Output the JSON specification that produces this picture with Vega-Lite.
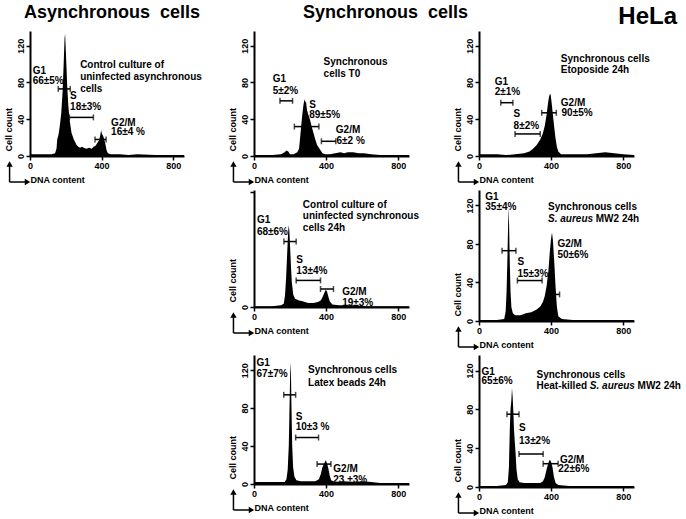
{
"$schema":"https://vega.github.io/schema/vega-lite/v6.json",
"background":"white",
"padding":{"left":3,"top":4,"right":2,"bottom":2},
"datasets":{
"h":[
{"p":1,"x":0,"y":2},{"p":1,"x":40,"y":2},{"p":1,"x":80,"y":2},{"p":1,"x":120,"y":2},{"p":1,"x":140,"y":3},{"p":1,"x":148,"y":8},{"p":1,"x":152,"y":18},{"p":1,"x":160,"y":24},{"p":1,"x":168,"y":35},{"p":1,"x":175,"y":48},{"p":1,"x":182,"y":70},{"p":1,"x":188,"y":100},{"p":1,"x":193,"y":128},{"p":1,"x":196,"y":133},{"p":1,"x":199,"y":120},{"p":1,"x":203,"y":100},{"p":1,"x":208,"y":75},{"p":1,"x":214,"y":55},{"p":1,"x":222,"y":38},{"p":1,"x":232,"y":25},{"p":1,"x":245,"y":18},{"p":1,"x":260,"y":12},{"p":1,"x":270,"y":10},{"p":1,"x":280,"y":9},{"p":1,"x":290,"y":10},{"p":1,"x":300,"y":9},{"p":1,"x":315,"y":8},{"p":1,"x":330,"y":9},{"p":1,"x":345,"y":8},{"p":1,"x":355,"y":10},{"p":1,"x":365,"y":11},{"p":1,"x":375,"y":14},{"p":1,"x":385,"y":17},{"p":1,"x":392,"y":22},{"p":1,"x":397,"y":28},{"p":1,"x":402,"y":24},{"p":1,"x":408,"y":22},{"p":1,"x":415,"y":18},{"p":1,"x":422,"y":12},{"p":1,"x":428,"y":6},{"p":1,"x":435,"y":3},{"p":1,"x":450,"y":2},{"p":1,"x":500,"y":2},{"p":1,"x":550,"y":1},{"p":1,"x":600,"y":2},{"p":1,"x":700,"y":1},{"p":1,"x":860,"y":1},
{"p":2,"x":0,"y":1},{"p":2,"x":100,"y":1},{"p":2,"x":150,"y":2},{"p":2,"x":170,"y":4},{"p":2,"x":180,"y":6},{"p":2,"x":190,"y":5},{"p":2,"x":200,"y":2},{"p":2,"x":220,"y":2},{"p":2,"x":240,"y":4},{"p":2,"x":250,"y":8},{"p":2,"x":256,"y":20},{"p":2,"x":262,"y":33},{"p":2,"x":268,"y":45},{"p":2,"x":274,"y":55},{"p":2,"x":280,"y":62},{"p":2,"x":284,"y":58},{"p":2,"x":288,"y":60},{"p":2,"x":294,"y":50},{"p":2,"x":300,"y":46},{"p":2,"x":310,"y":40},{"p":2,"x":320,"y":32},{"p":2,"x":330,"y":25},{"p":2,"x":340,"y":18},{"p":2,"x":350,"y":12},{"p":2,"x":360,"y":9},{"p":2,"x":370,"y":6},{"p":2,"x":380,"y":3},{"p":2,"x":395,"y":2},{"p":2,"x":420,"y":2},{"p":2,"x":450,"y":3},{"p":2,"x":480,"y":4},{"p":2,"x":500,"y":3},{"p":2,"x":520,"y":4},{"p":2,"x":550,"y":4},{"p":2,"x":580,"y":3},{"p":2,"x":610,"y":3},{"p":2,"x":650,"y":2},{"p":2,"x":700,"y":1},{"p":2,"x":860,"y":1},
{"p":3,"x":0,"y":2},{"p":3,"x":100,"y":2},{"p":3,"x":150,"y":1},{"p":3,"x":200,"y":2},{"p":3,"x":250,"y":3},{"p":3,"x":280,"y":5},{"p":3,"x":300,"y":8},{"p":3,"x":320,"y":12},{"p":3,"x":340,"y":18},{"p":3,"x":355,"y":25},{"p":3,"x":365,"y":33},{"p":3,"x":375,"y":45},{"p":3,"x":382,"y":56},{"p":3,"x":388,"y":64},{"p":3,"x":394,"y":68},{"p":3,"x":398,"y":66},{"p":3,"x":403,"y":58},{"p":3,"x":410,"y":45},{"p":3,"x":417,"y":32},{"p":3,"x":424,"y":20},{"p":3,"x":432,"y":10},{"p":3,"x":440,"y":5},{"p":3,"x":455,"y":2},{"p":3,"x":500,"y":2},{"p":3,"x":600,"y":2},{"p":3,"x":650,"y":3},{"p":3,"x":700,"y":4},{"p":3,"x":750,"y":3},{"p":3,"x":800,"y":2},{"p":3,"x":860,"y":1},
{"p":4,"x":0,"y":1},{"p":4,"x":100,"y":1},{"p":4,"x":150,"y":2},{"p":4,"x":165,"y":4},{"p":4,"x":172,"y":14},{"p":4,"x":178,"y":35},{"p":4,"x":183,"y":60},{"p":4,"x":188,"y":85},{"p":4,"x":192,"y":100},{"p":4,"x":196,"y":94},{"p":4,"x":200,"y":75},{"p":4,"x":205,"y":50},{"p":4,"x":210,"y":30},{"p":4,"x":218,"y":15},{"p":4,"x":228,"y":10},{"p":4,"x":250,"y":8},{"p":4,"x":270,"y":7},{"p":4,"x":300,"y":5},{"p":4,"x":330,"y":5},{"p":4,"x":355,"y":6},{"p":4,"x":370,"y":8},{"p":4,"x":380,"y":12},{"p":4,"x":390,"y":17},{"p":4,"x":398,"y":21},{"p":4,"x":405,"y":19},{"p":4,"x":412,"y":13},{"p":4,"x":420,"y":7},{"p":4,"x":435,"y":3},{"p":4,"x":470,"y":2},{"p":4,"x":550,"y":2},{"p":4,"x":620,"y":1},{"p":4,"x":860,"y":1},
{"p":5,"x":0,"y":1},{"p":5,"x":100,"y":1},{"p":5,"x":140,"y":2},{"p":5,"x":148,"y":10},{"p":5,"x":153,"y":30},{"p":5,"x":157,"y":60},{"p":5,"x":161,"y":95},{"p":5,"x":164,"y":118},{"p":5,"x":167,"y":100},{"p":5,"x":171,"y":60},{"p":5,"x":175,"y":30},{"p":5,"x":180,"y":14},{"p":5,"x":188,"y":8},{"p":5,"x":200,"y":6},{"p":5,"x":230,"y":6},{"p":5,"x":260,"y":8},{"p":5,"x":290,"y":9},{"p":5,"x":320,"y":12},{"p":5,"x":340,"y":15},{"p":5,"x":355,"y":20},{"p":5,"x":365,"y":26},{"p":5,"x":375,"y":36},{"p":5,"x":385,"y":52},{"p":5,"x":393,"y":72},{"p":5,"x":400,"y":86},{"p":5,"x":405,"y":92},{"p":5,"x":410,"y":84},{"p":5,"x":418,"y":60},{"p":5,"x":425,"y":35},{"p":5,"x":432,"y":15},{"p":5,"x":440,"y":5},{"p":5,"x":460,"y":2},{"p":5,"x":520,"y":1},{"p":5,"x":860,"y":1},
{"p":6,"x":0,"y":2},{"p":6,"x":100,"y":2},{"p":6,"x":170,"y":2},{"p":6,"x":180,"y":5},{"p":6,"x":187,"y":15},{"p":6,"x":193,"y":40},{"p":6,"x":198,"y":90},{"p":6,"x":202,"y":128},{"p":6,"x":205,"y":118},{"p":6,"x":208,"y":80},{"p":6,"x":212,"y":40},{"p":6,"x":217,"y":18},{"p":6,"x":224,"y":8},{"p":6,"x":235,"y":4},{"p":6,"x":260,"y":3},{"p":6,"x":300,"y":3},{"p":6,"x":340,"y":3},{"p":6,"x":360,"y":5},{"p":6,"x":370,"y":10},{"p":6,"x":380,"y":18},{"p":6,"x":390,"y":22},{"p":6,"x":398,"y":25},{"p":6,"x":405,"y":22},{"p":6,"x":412,"y":17},{"p":6,"x":420,"y":9},{"p":6,"x":428,"y":4},{"p":6,"x":450,"y":2},{"p":6,"x":500,"y":3},{"p":6,"x":550,"y":2},{"p":6,"x":600,"y":3},{"p":6,"x":650,"y":2},{"p":6,"x":700,"y":1},{"p":6,"x":860,"y":1},
{"p":7,"x":0,"y":1},{"p":7,"x":100,"y":1},{"p":7,"x":150,"y":2},{"p":7,"x":160,"y":5},{"p":7,"x":166,"y":20},{"p":7,"x":171,"y":60},{"p":7,"x":175,"y":80},{"p":7,"x":179,"y":88},{"p":7,"x":183,"y":102},{"p":7,"x":187,"y":92},{"p":7,"x":190,"y":80},{"p":7,"x":194,"y":60},{"p":7,"x":198,"y":48},{"p":7,"x":203,"y":35},{"p":7,"x":208,"y":18},{"p":7,"x":215,"y":8},{"p":7,"x":225,"y":5},{"p":7,"x":250,"y":4},{"p":7,"x":300,"y":4},{"p":7,"x":340,"y":4},{"p":7,"x":355,"y":6},{"p":7,"x":365,"y":10},{"p":7,"x":375,"y":18},{"p":7,"x":385,"y":25},{"p":7,"x":393,"y":28},{"p":7,"x":400,"y":26},{"p":7,"x":408,"y":20},{"p":7,"x":416,"y":10},{"p":7,"x":425,"y":4},{"p":7,"x":440,"y":2},{"p":7,"x":500,"y":1},{"p":7,"x":860,"y":1}
],
"g":[
{"p":1,"a":158,"b":225,"y":73},{"p":1,"a":220,"b":354,"y":42},{"p":1,"a":363,"b":425,"y":18},
{"p":2,"a":144,"b":214,"y":60},{"p":2,"a":224,"b":360,"y":32},{"p":2,"a":374,"b":454,"y":16},
{"p":3,"a":121,"b":188,"y":58},{"p":3,"a":200,"b":340,"y":24},{"p":3,"a":348,"b":429,"y":47},
{"p":4,"a":166,"b":234,"y":80},{"p":4,"a":234,"b":369,"y":32.5},{"p":4,"a":369,"b":441,"y":22},
{"p":5,"a":128,"b":205,"y":73},{"p":5,"a":213,"b":350,"y":42},{"p":5,"a":377,"b":447,"y":27.6},
{"p":6,"a":165,"b":231,"y":94},{"p":6,"a":231,"b":358,"y":49},{"p":6,"a":350,"b":427,"y":21},
{"p":7,"a":155,"b":222,"y":75},{"p":7,"a":222,"b":356,"y":34},{"p":7,"a":356,"b":439,"y":24}
],
"t":[
{"p":1,"x":15,"y":93,"s":"G1"},{"p":1,"x":15,"y":82,"s":"66±5%"},{"p":1,"x":224,"y":65,"s":"S"},{"p":1,"x":224,"y":53,"s":"18±3%"},{"p":1,"x":453,"y":36,"s":"G2/M"},{"p":1,"x":453,"y":26,"s":"16±4 %"},{"p":1,"x":280,"y":99,"s":"Control culture of"},{"p":1,"x":280,"y":86,"s":"uninfected asynchronous"},{"p":1,"x":280,"y":73,"s":"cells"},
{"p":2,"x":104,"y":84,"s":"G1"},{"p":2,"x":104,"y":71,"s":"5±2%"},{"p":2,"x":306,"y":56,"s":"S"},{"p":2,"x":306,"y":45,"s":"89±5%"},{"p":2,"x":454,"y":28,"s":"G2/M"},{"p":2,"x":458,"y":16,"s":"6±2 %"},{"p":2,"x":386,"y":102,"s":"Synchronous"},{"p":2,"x":386,"y":89,"s":"cells T0"},
{"p":3,"x":87,"y":80,"s":"G1"},{"p":3,"x":87,"y":70,"s":"2±1%"},{"p":3,"x":192,"y":46,"s":"S"},{"p":3,"x":192,"y":33,"s":"8±2%"},{"p":3,"x":454,"y":58,"s":"G2/M"},{"p":3,"x":458,"y":47,"s":"90±5%"},{"p":3,"x":454,"y":105,"s":"Synchronous cells"},{"p":3,"x":454,"y":94,"s":"Etoposide 24h"},
{"p":4,"x":16,"y":106,"s":"G1"},{"p":4,"x":16,"y":91.5,"s":"68±6%"},{"p":4,"x":235,"y":57,"s":"S"},{"p":4,"x":235,"y":43.5,"s":"13±4%"},{"p":4,"x":489,"y":18,"s":"G2/M"},{"p":4,"x":489,"y":5,"s":"19±3%"},{"p":4,"x":271,"y":125,"s":"Control culture of"},{"p":4,"x":271,"y":110.7,"s":"uninfected synchronous"},{"p":4,"x":271,"y":96.4,"s":"cells 24h"},
{"p":5,"x":35,"y":129,"s":"G1"},{"p":5,"x":35,"y":118,"s":"35±4%"},{"p":5,"x":213,"y":61,"s":"S"},{"p":5,"x":213,"y":49,"s":"15±3%"},{"p":5,"x":435,"y":80,"s":"G2/M"},{"p":5,"x":435,"y":69,"s":"50±6%"},{"p":5,"x":383,"y":118,"s":"Synchronous cells"},{"p":5,"x":648,"y":106,"s":"MW2 24h"},
{"p":6,"x":14,"y":127.5,"s":"G1"},{"p":6,"x":14,"y":115.5,"s":"67±7%"},{"p":6,"x":231,"y":71,"s":"S"},{"p":6,"x":231,"y":60,"s":"10±3 %"},{"p":6,"x":440,"y":15.7,"s":"G2/M"},{"p":6,"x":440,"y":3.7,"s":"23 ±3%"},{"p":6,"x":300,"y":120,"s":"Synchronous cells"},{"p":6,"x":300,"y":106,"s":"Latex beads 24h"},
{"p":7,"x":14,"y":119,"s":"G1"},{"p":7,"x":14,"y":109,"s":"65±6%"},{"p":7,"x":222,"y":61,"s":"S"},{"p":7,"x":222,"y":47,"s":"13±2%"},{"p":7,"x":449,"y":28,"s":"G2/M"},{"p":7,"x":440,"y":19,"s":"22±6%"},{"p":7,"x":319,"y":115,"s":"Synchronous cells"},{"p":7,"x":319,"y":104,"s":"Heat-killed"},{"p":7,"x":880,"y":104,"s":"MW2 24h"}
],
"ti":[
{"p":5,"x":383,"y":106,"s":"S. aureus"},{"p":7,"x":615,"y":104,"s":"S. aureus"}
]
},
"bounds":"flush",
"columns":3,
"spacing":{"row":34,"column":70},
"concat":[
{"width":154,"height":125,
"title":{"text":"Asynchronous\u00a0 cells","anchor":"start","frame":"group","dx":-6,"dy":5,"offset":0,"baseline":"alphabetic","fontSize":18},
"layer":[
{"data":{"name":"h"},"transform":[{"filter":"datum.p==1"}],"mark":{"type":"area","color":"black","interpolate":"linear"},"encoding":{"x":{"field":"x","type":"quantitative","scale":{"domain":[0,860],"nice":false},"axis":{"title":"DNA content","values":[0,50,100,150,200,250,300,350,400,450,500,550,600,650,700,750,800,850],"labelExpr":"datum.value % 200 === 0 ? datum.label : ''","tickSize":4,"titleAnchor":"start","titlePadding":5}},"y":{"field":"y","type":"quantitative","scale":{"domain":[0,136],"nice":false},"axis":{"title":"Cell count","titleY":120,"values":[0,10,20,30,40,50,60,70,80,90,100,110,120,130],"labelExpr":"datum.value % 40 === 0 ? datum.label : ''","tickSize":4,"titleAnchor":"start","labelAngle":270,"labelAlign":"center","labelBaseline":"bottom","titlePadding":3}}}},
{"data":{"name":"g"},"transform":[{"filter":"datum.p==1"}],"mark":{"type":"rule","color":"black","strokeWidth":1.5},"encoding":{"x":{"field":"a","type":"quantitative","scale":{"domain":[0,860],"nice":false}},"x2":{"field":"b"},"y":{"field":"y","type":"quantitative","scale":{"domain":[0,136],"nice":false}}}},
{"data":{"name":"g"},"transform":[{"filter":"datum.p==1"}],"mark":{"type":"tick","orient":"vertical","color":"black","thickness":1.5,"size":6},"encoding":{"x":{"field":"a","type":"quantitative","scale":{"domain":[0,860],"nice":false}},"y":{"field":"y","type":"quantitative","scale":{"domain":[0,136],"nice":false}}}},
{"data":{"name":"g"},"transform":[{"filter":"datum.p==1"}],"mark":{"type":"tick","orient":"vertical","color":"black","thickness":1.5,"size":6},"encoding":{"x":{"field":"b","type":"quantitative","scale":{"domain":[0,860],"nice":false}},"y":{"field":"y","type":"quantitative","scale":{"domain":[0,136],"nice":false}}}},
{"data":{"name":"t"},"transform":[{"filter":"datum.p==1"}],"mark":{"type":"text","align":"left","baseline":"middle","fontWeight":"bold","fontSize":10,"color":"black"},"encoding":{"x":{"field":"x","type":"quantitative","scale":{"domain":[0,860],"nice":false}},"y":{"field":"y","type":"quantitative","scale":{"domain":[0,136],"nice":false}},"text":{"field":"s"}}},
{"data":{"values":[{}]},"mark":{"type":"rule","color":"black","strokeWidth":1.5},"encoding":{"x":{"datum":-114,"type":"quantitative","scale":{"domain":[0,860],"nice":false}},"y":{"datum":-28.3,"type":"quantitative","scale":{"domain":[0,136],"nice":false}},"y2":{"datum":-8.7}}},
{"data":{"values":[{}]},"mark":{"type":"rule","color":"black","strokeWidth":1.5},"encoding":{"x":{"datum":-114,"type":"quantitative","scale":{"domain":[0,860],"nice":false}},"x2":{"datum":-14},"y":{"datum":-28.3,"type":"quantitative","scale":{"domain":[0,136],"nice":false}}}},
{"data":{"values":[{}]},"mark":{"type":"point","shape":"triangle-up","filled":true,"color":"black","opacity":1,"size":40},"encoding":{"x":{"datum":-114,"type":"quantitative","scale":{"domain":[0,860],"nice":false}},"y":{"datum":-8.7,"type":"quantitative","scale":{"domain":[0,136],"nice":false}}}},
{"data":{"values":[{}]},"mark":{"type":"point","shape":"triangle-right","filled":true,"color":"black","opacity":1,"size":40},"encoding":{"x":{"datum":-14,"type":"quantitative","scale":{"domain":[0,860],"nice":false}},"y":{"datum":-28.3,"type":"quantitative","scale":{"domain":[0,136],"nice":false}}}}
]},
{"width":155,"height":125,
"title":{"text":"Synchronous\u00a0 cells","anchor":"start","frame":"group","dx":49,"dy":5,"offset":0,"baseline":"alphabetic","fontSize":18},
"layer":[
{"data":{"name":"h"},"transform":[{"filter":"datum.p==2"}],"mark":{"type":"area","color":"black","interpolate":"linear"},"encoding":{"x":{"field":"x","type":"quantitative","scale":{"domain":[0,860],"nice":false},"axis":{"title":"DNA content","values":[0,50,100,150,200,250,300,350,400,450,500,550,600,650,700,750,800,850],"labelExpr":"datum.value % 200 === 0 ? datum.label : ''","tickSize":4,"titleAnchor":"start","titlePadding":5}},"y":{"field":"y","type":"quantitative","scale":{"domain":[0,136],"nice":false},"axis":{"title":"Cell count","titleY":120,"values":[0,10,20,30,40,50,60,70,80,90,100,110,120,130],"labelExpr":"datum.value % 40 === 0 ? datum.label : ''","tickSize":4,"titleAnchor":"start","labelAngle":270,"labelAlign":"center","labelBaseline":"bottom","titlePadding":3}}}},
{"data":{"name":"g"},"transform":[{"filter":"datum.p==2"}],"mark":{"type":"rule","color":"black","strokeWidth":1.5},"encoding":{"x":{"field":"a","type":"quantitative","scale":{"domain":[0,860],"nice":false}},"x2":{"field":"b"},"y":{"field":"y","type":"quantitative","scale":{"domain":[0,136],"nice":false}}}},
{"data":{"name":"g"},"transform":[{"filter":"datum.p==2"}],"mark":{"type":"tick","orient":"vertical","color":"black","thickness":1.5,"size":6},"encoding":{"x":{"field":"a","type":"quantitative","scale":{"domain":[0,860],"nice":false}},"y":{"field":"y","type":"quantitative","scale":{"domain":[0,136],"nice":false}}}},
{"data":{"name":"g"},"transform":[{"filter":"datum.p==2"}],"mark":{"type":"tick","orient":"vertical","color":"black","thickness":1.5,"size":6},"encoding":{"x":{"field":"b","type":"quantitative","scale":{"domain":[0,860],"nice":false}},"y":{"field":"y","type":"quantitative","scale":{"domain":[0,136],"nice":false}}}},
{"data":{"name":"t"},"transform":[{"filter":"datum.p==2"}],"mark":{"type":"text","align":"left","baseline":"middle","fontWeight":"bold","fontSize":10,"color":"black"},"encoding":{"x":{"field":"x","type":"quantitative","scale":{"domain":[0,860],"nice":false}},"y":{"field":"y","type":"quantitative","scale":{"domain":[0,136],"nice":false}},"text":{"field":"s"}}},
{"data":{"values":[{}]},"mark":{"type":"rule","color":"black","strokeWidth":1.5},"encoding":{"x":{"datum":-114,"type":"quantitative","scale":{"domain":[0,860],"nice":false}},"y":{"datum":-28.3,"type":"quantitative","scale":{"domain":[0,136],"nice":false}},"y2":{"datum":-8.7}}},
{"data":{"values":[{}]},"mark":{"type":"rule","color":"black","strokeWidth":1.5},"encoding":{"x":{"datum":-114,"type":"quantitative","scale":{"domain":[0,860],"nice":false}},"x2":{"datum":-14},"y":{"datum":-28.3,"type":"quantitative","scale":{"domain":[0,136],"nice":false}}}},
{"data":{"values":[{}]},"mark":{"type":"point","shape":"triangle-up","filled":true,"color":"black","opacity":1,"size":40},"encoding":{"x":{"datum":-114,"type":"quantitative","scale":{"domain":[0,860],"nice":false}},"y":{"datum":-8.7,"type":"quantitative","scale":{"domain":[0,136],"nice":false}}}},
{"data":{"values":[{}]},"mark":{"type":"point","shape":"triangle-right","filled":true,"color":"black","opacity":1,"size":40},"encoding":{"x":{"datum":-14,"type":"quantitative","scale":{"domain":[0,860],"nice":false}},"y":{"datum":-28.3,"type":"quantitative","scale":{"domain":[0,136],"nice":false}}}}
]},
{"width":155,"height":125,
"title":{"text":"HeLa","anchor":"end","frame":"group","dx":43,"dy":17,"offset":0,"baseline":"alphabetic","fontSize":24},
"layer":[
{"data":{"name":"h"},"transform":[{"filter":"datum.p==3"}],"mark":{"type":"area","color":"black","interpolate":"linear"},"encoding":{"x":{"field":"x","type":"quantitative","scale":{"domain":[0,860],"nice":false},"axis":{"title":"DNA content","values":[0,50,100,150,200,250,300,350,400,450,500,550,600,650,700,750,800,850],"labelExpr":"datum.value % 200 === 0 ? datum.label : ''","tickSize":4,"titleAnchor":"start","titlePadding":5}},"y":{"field":"y","type":"quantitative","scale":{"domain":[0,136],"nice":false},"axis":{"title":"Cell count","titleY":120,"values":[0,10,20,30,40,50,60,70,80,90,100,110,120,130],"labelExpr":"datum.value % 40 === 0 ? datum.label : ''","tickSize":4,"titleAnchor":"start","labelAngle":270,"labelAlign":"center","labelBaseline":"bottom","titlePadding":3}}}},
{"data":{"name":"g"},"transform":[{"filter":"datum.p==3"}],"mark":{"type":"rule","color":"black","strokeWidth":1.5},"encoding":{"x":{"field":"a","type":"quantitative","scale":{"domain":[0,860],"nice":false}},"x2":{"field":"b"},"y":{"field":"y","type":"quantitative","scale":{"domain":[0,136],"nice":false}}}},
{"data":{"name":"g"},"transform":[{"filter":"datum.p==3"}],"mark":{"type":"tick","orient":"vertical","color":"black","thickness":1.5,"size":6},"encoding":{"x":{"field":"a","type":"quantitative","scale":{"domain":[0,860],"nice":false}},"y":{"field":"y","type":"quantitative","scale":{"domain":[0,136],"nice":false}}}},
{"data":{"name":"g"},"transform":[{"filter":"datum.p==3"}],"mark":{"type":"tick","orient":"vertical","color":"black","thickness":1.5,"size":6},"encoding":{"x":{"field":"b","type":"quantitative","scale":{"domain":[0,860],"nice":false}},"y":{"field":"y","type":"quantitative","scale":{"domain":[0,136],"nice":false}}}},
{"data":{"name":"t"},"transform":[{"filter":"datum.p==3"}],"mark":{"type":"text","align":"left","baseline":"middle","fontWeight":"bold","fontSize":10,"color":"black"},"encoding":{"x":{"field":"x","type":"quantitative","scale":{"domain":[0,860],"nice":false}},"y":{"field":"y","type":"quantitative","scale":{"domain":[0,136],"nice":false}},"text":{"field":"s"}}},
{"data":{"values":[{}]},"mark":{"type":"rule","color":"black","strokeWidth":1.5},"encoding":{"x":{"datum":-114,"type":"quantitative","scale":{"domain":[0,860],"nice":false}},"y":{"datum":-28.3,"type":"quantitative","scale":{"domain":[0,136],"nice":false}},"y2":{"datum":-8.7}}},
{"data":{"values":[{}]},"mark":{"type":"rule","color":"black","strokeWidth":1.5},"encoding":{"x":{"datum":-114,"type":"quantitative","scale":{"domain":[0,860],"nice":false}},"x2":{"datum":-14},"y":{"datum":-28.3,"type":"quantitative","scale":{"domain":[0,136],"nice":false}}}},
{"data":{"values":[{}]},"mark":{"type":"point","shape":"triangle-up","filled":true,"color":"black","opacity":1,"size":40},"encoding":{"x":{"datum":-114,"type":"quantitative","scale":{"domain":[0,860],"nice":false}},"y":{"datum":-8.7,"type":"quantitative","scale":{"domain":[0,136],"nice":false}}}},
{"data":{"values":[{}]},"mark":{"type":"point","shape":"triangle-right","filled":true,"color":"black","opacity":1,"size":40},"encoding":{"x":{"datum":-14,"type":"quantitative","scale":{"domain":[0,860],"nice":false}},"y":{"datum":-28.3,"type":"quantitative","scale":{"domain":[0,136],"nice":false}}}}
]},
{"width":154,"height":100,"data":{"values":[]},"mark":"point"},
{"width":155,"height":117,
"layer":[
{"data":{"name":"h"},"transform":[{"filter":"datum.p==4"}],"mark":{"type":"area","color":"black","interpolate":"linear"},"encoding":{"x":{"field":"x","type":"quantitative","scale":{"domain":[0,860],"nice":false},"axis":{"title":"DNA content","values":[0,50,100,150,200,250,300,350,400,450,500,550,600,650,700,750,800,850],"labelExpr":"datum.value % 200 === 0 ? datum.label : ''","tickSize":4,"titleAnchor":"start","titlePadding":5}},"y":{"field":"y","type":"quantitative","scale":{"domain":[0,143],"nice":false},"axis":{"title":"Cell count","titleY":112,"values":[0,10,20,30,40,50,60,70,80,90,100,110,120,130,140],"labelExpr":"datum.value % 40 === 0 ? datum.label : ''","tickSize":4,"titleAnchor":"start","labelAngle":270,"labelAlign":"center","labelBaseline":"bottom","titlePadding":3}}}},
{"data":{"name":"g"},"transform":[{"filter":"datum.p==4"}],"mark":{"type":"rule","color":"black","strokeWidth":1.5},"encoding":{"x":{"field":"a","type":"quantitative","scale":{"domain":[0,860],"nice":false}},"x2":{"field":"b"},"y":{"field":"y","type":"quantitative","scale":{"domain":[0,143],"nice":false}}}},
{"data":{"name":"g"},"transform":[{"filter":"datum.p==4"}],"mark":{"type":"tick","orient":"vertical","color":"black","thickness":1.5,"size":6},"encoding":{"x":{"field":"a","type":"quantitative","scale":{"domain":[0,860],"nice":false}},"y":{"field":"y","type":"quantitative","scale":{"domain":[0,143],"nice":false}}}},
{"data":{"name":"g"},"transform":[{"filter":"datum.p==4"}],"mark":{"type":"tick","orient":"vertical","color":"black","thickness":1.5,"size":6},"encoding":{"x":{"field":"b","type":"quantitative","scale":{"domain":[0,860],"nice":false}},"y":{"field":"y","type":"quantitative","scale":{"domain":[0,143],"nice":false}}}},
{"data":{"name":"t"},"transform":[{"filter":"datum.p==4"}],"mark":{"type":"text","align":"left","baseline":"middle","fontWeight":"bold","fontSize":10,"color":"black"},"encoding":{"x":{"field":"x","type":"quantitative","scale":{"domain":[0,860],"nice":false}},"y":{"field":"y","type":"quantitative","scale":{"domain":[0,143],"nice":false}},"text":{"field":"s"}}},
{"data":{"values":[{}]},"mark":{"type":"rule","color":"black","strokeWidth":1.5},"encoding":{"x":{"datum":-114,"type":"quantitative","scale":{"domain":[0,860],"nice":false}},"y":{"datum":-31.8,"type":"quantitative","scale":{"domain":[0,143],"nice":false}},"y2":{"datum":-9.8}}},
{"data":{"values":[{}]},"mark":{"type":"rule","color":"black","strokeWidth":1.5},"encoding":{"x":{"datum":-114,"type":"quantitative","scale":{"domain":[0,860],"nice":false}},"x2":{"datum":-14},"y":{"datum":-31.8,"type":"quantitative","scale":{"domain":[0,143],"nice":false}}}},
{"data":{"values":[{}]},"mark":{"type":"point","shape":"triangle-up","filled":true,"color":"black","opacity":1,"size":40},"encoding":{"x":{"datum":-114,"type":"quantitative","scale":{"domain":[0,860],"nice":false}},"y":{"datum":-9.8,"type":"quantitative","scale":{"domain":[0,143],"nice":false}}}},
{"data":{"values":[{}]},"mark":{"type":"point","shape":"triangle-right","filled":true,"color":"black","opacity":1,"size":40},"encoding":{"x":{"datum":-14,"type":"quantitative","scale":{"domain":[0,860],"nice":false}},"y":{"datum":-31.8,"type":"quantitative","scale":{"domain":[0,143],"nice":false}}}}
]},
{"width":155,"height":131,
"layer":[
{"data":{"name":"h"},"transform":[{"filter":"datum.p==5"}],"mark":{"type":"area","color":"black","interpolate":"linear"},"encoding":{"x":{"field":"x","type":"quantitative","scale":{"domain":[0,860],"nice":false},"axis":{"title":"DNA content","values":[0,50,100,150,200,250,300,350,400,450,500,550,600,650,700,750,800,850],"labelExpr":"datum.value % 200 === 0 ? datum.label : ''","tickSize":4,"titleAnchor":"start","titlePadding":5}},"y":{"field":"y","type":"quantitative","scale":{"domain":[0,136],"nice":false},"axis":{"title":"Cell count","titleY":126,"values":[0,10,20,30,40,50,60,70,80,90,100,110,120,130],"labelExpr":"datum.value % 40 === 0 ? datum.label : ''","tickSize":4,"titleAnchor":"start","labelAngle":270,"labelAlign":"center","labelBaseline":"bottom","titlePadding":3}}}},
{"data":{"name":"g"},"transform":[{"filter":"datum.p==5"}],"mark":{"type":"rule","color":"black","strokeWidth":1.5},"encoding":{"x":{"field":"a","type":"quantitative","scale":{"domain":[0,860],"nice":false}},"x2":{"field":"b"},"y":{"field":"y","type":"quantitative","scale":{"domain":[0,136],"nice":false}}}},
{"data":{"name":"g"},"transform":[{"filter":"datum.p==5"}],"mark":{"type":"tick","orient":"vertical","color":"black","thickness":1.5,"size":6},"encoding":{"x":{"field":"a","type":"quantitative","scale":{"domain":[0,860],"nice":false}},"y":{"field":"y","type":"quantitative","scale":{"domain":[0,136],"nice":false}}}},
{"data":{"name":"g"},"transform":[{"filter":"datum.p==5"}],"mark":{"type":"tick","orient":"vertical","color":"black","thickness":1.5,"size":6},"encoding":{"x":{"field":"b","type":"quantitative","scale":{"domain":[0,860],"nice":false}},"y":{"field":"y","type":"quantitative","scale":{"domain":[0,136],"nice":false}}}},
{"data":{"name":"t"},"transform":[{"filter":"datum.p==5"}],"mark":{"type":"text","align":"left","baseline":"middle","fontWeight":"bold","fontSize":10,"color":"black"},"encoding":{"x":{"field":"x","type":"quantitative","scale":{"domain":[0,860],"nice":false}},"y":{"field":"y","type":"quantitative","scale":{"domain":[0,136],"nice":false}},"text":{"field":"s"}}},
{"data":{"name":"ti"},"transform":[{"filter":"datum.p==5"}],"mark":{"type":"text","align":"left","baseline":"middle","fontWeight":"bold","fontStyle":"italic","fontSize":10,"color":"black"},"encoding":{"x":{"field":"x","type":"quantitative","scale":{"domain":[0,860],"nice":false}},"y":{"field":"y","type":"quantitative","scale":{"domain":[0,136],"nice":false}},"text":{"field":"s"}}},
{"data":{"values":[{}]},"mark":{"type":"rule","color":"black","strokeWidth":1.5},"encoding":{"x":{"datum":-114,"type":"quantitative","scale":{"domain":[0,860],"nice":false}},"y":{"datum":-27,"type":"quantitative","scale":{"domain":[0,136],"nice":false}},"y2":{"datum":-8.3}}},
{"data":{"values":[{}]},"mark":{"type":"rule","color":"black","strokeWidth":1.5},"encoding":{"x":{"datum":-114,"type":"quantitative","scale":{"domain":[0,860],"nice":false}},"x2":{"datum":-14},"y":{"datum":-27,"type":"quantitative","scale":{"domain":[0,136],"nice":false}}}},
{"data":{"values":[{}]},"mark":{"type":"point","shape":"triangle-up","filled":true,"color":"black","opacity":1,"size":40},"encoding":{"x":{"datum":-114,"type":"quantitative","scale":{"domain":[0,860],"nice":false}},"y":{"datum":-8.3,"type":"quantitative","scale":{"domain":[0,136],"nice":false}}}},
{"data":{"values":[{}]},"mark":{"type":"point","shape":"triangle-right","filled":true,"color":"black","opacity":1,"size":40},"encoding":{"x":{"datum":-14,"type":"quantitative","scale":{"domain":[0,860],"nice":false}},"y":{"datum":-27,"type":"quantitative","scale":{"domain":[0,136],"nice":false}}}}
]},
{"width":154,"height":100,"data":{"values":[]},"mark":"point"},
{"width":155,"height":129,
"layer":[
{"data":{"name":"h"},"transform":[{"filter":"datum.p==6"}],"mark":{"type":"area","color":"black","interpolate":"linear"},"encoding":{"x":{"field":"x","type":"quantitative","scale":{"domain":[0,860],"nice":false},"axis":{"title":"DNA content","values":[0,50,100,150,200,250,300,350,400,450,500,550,600,650,700,750,800,850],"labelExpr":"datum.value % 200 === 0 ? datum.label : ''","tickSize":4,"titleAnchor":"start","titlePadding":5}},"y":{"field":"y","type":"quantitative","scale":{"domain":[0,136],"nice":false},"axis":{"title":"Cell count","titleY":124,"values":[0,10,20,30,40,50,60,70,80,90,100,110,120,130],"labelExpr":"datum.value % 40 === 0 ? datum.label : ''","tickSize":4,"titleAnchor":"start","labelAngle":270,"labelAlign":"center","labelBaseline":"bottom","titlePadding":3}}}},
{"data":{"name":"g"},"transform":[{"filter":"datum.p==6"}],"mark":{"type":"rule","color":"black","strokeWidth":1.5},"encoding":{"x":{"field":"a","type":"quantitative","scale":{"domain":[0,860],"nice":false}},"x2":{"field":"b"},"y":{"field":"y","type":"quantitative","scale":{"domain":[0,136],"nice":false}}}},
{"data":{"name":"g"},"transform":[{"filter":"datum.p==6"}],"mark":{"type":"tick","orient":"vertical","color":"black","thickness":1.5,"size":6},"encoding":{"x":{"field":"a","type":"quantitative","scale":{"domain":[0,860],"nice":false}},"y":{"field":"y","type":"quantitative","scale":{"domain":[0,136],"nice":false}}}},
{"data":{"name":"g"},"transform":[{"filter":"datum.p==6"}],"mark":{"type":"tick","orient":"vertical","color":"black","thickness":1.5,"size":6},"encoding":{"x":{"field":"b","type":"quantitative","scale":{"domain":[0,860],"nice":false}},"y":{"field":"y","type":"quantitative","scale":{"domain":[0,136],"nice":false}}}},
{"data":{"name":"t"},"transform":[{"filter":"datum.p==6"}],"mark":{"type":"text","align":"left","baseline":"middle","fontWeight":"bold","fontSize":10,"color":"black"},"encoding":{"x":{"field":"x","type":"quantitative","scale":{"domain":[0,860],"nice":false}},"y":{"field":"y","type":"quantitative","scale":{"domain":[0,136],"nice":false}},"text":{"field":"s"}}},
{"data":{"values":[{}]},"mark":{"type":"rule","color":"black","strokeWidth":1.5},"encoding":{"x":{"datum":-114,"type":"quantitative","scale":{"domain":[0,860],"nice":false}},"y":{"datum":-27.4,"type":"quantitative","scale":{"domain":[0,136],"nice":false}},"y2":{"datum":-8.4}}},
{"data":{"values":[{}]},"mark":{"type":"rule","color":"black","strokeWidth":1.5},"encoding":{"x":{"datum":-114,"type":"quantitative","scale":{"domain":[0,860],"nice":false}},"x2":{"datum":-14},"y":{"datum":-27.4,"type":"quantitative","scale":{"domain":[0,136],"nice":false}}}},
{"data":{"values":[{}]},"mark":{"type":"point","shape":"triangle-up","filled":true,"color":"black","opacity":1,"size":40},"encoding":{"x":{"datum":-114,"type":"quantitative","scale":{"domain":[0,860],"nice":false}},"y":{"datum":-8.4,"type":"quantitative","scale":{"domain":[0,136],"nice":false}}}},
{"data":{"values":[{}]},"mark":{"type":"point","shape":"triangle-right","filled":true,"color":"black","opacity":1,"size":40},"encoding":{"x":{"datum":-14,"type":"quantitative","scale":{"domain":[0,860],"nice":false}},"y":{"datum":-27.4,"type":"quantitative","scale":{"domain":[0,136],"nice":false}}}}
]},
{"width":155,"height":132,
"layer":[
{"data":{"name":"h"},"transform":[{"filter":"datum.p==7"}],"mark":{"type":"area","color":"black","interpolate":"linear"},"encoding":{"x":{"field":"x","type":"quantitative","scale":{"domain":[0,860],"nice":false},"axis":{"title":"DNA content","values":[0,50,100,150,200,250,300,350,400,450,500,550,600,650,700,750,800,850],"labelExpr":"datum.value % 200 === 0 ? datum.label : ''","tickSize":4,"titleAnchor":"start","titlePadding":5}},"y":{"field":"y","type":"quantitative","scale":{"domain":[0,136],"nice":false},"axis":{"title":"Cell count","titleY":127,"values":[0,10,20,30,40,50,60,70,80,90,100,110,120,130],"labelExpr":"datum.value % 40 === 0 ? datum.label : ''","tickSize":4,"titleAnchor":"start","labelAngle":270,"labelAlign":"center","labelBaseline":"bottom","titlePadding":3}}}},
{"data":{"name":"g"},"transform":[{"filter":"datum.p==7"}],"mark":{"type":"rule","color":"black","strokeWidth":1.5},"encoding":{"x":{"field":"a","type":"quantitative","scale":{"domain":[0,860],"nice":false}},"x2":{"field":"b"},"y":{"field":"y","type":"quantitative","scale":{"domain":[0,136],"nice":false}}}},
{"data":{"name":"g"},"transform":[{"filter":"datum.p==7"}],"mark":{"type":"tick","orient":"vertical","color":"black","thickness":1.5,"size":6},"encoding":{"x":{"field":"a","type":"quantitative","scale":{"domain":[0,860],"nice":false}},"y":{"field":"y","type":"quantitative","scale":{"domain":[0,136],"nice":false}}}},
{"data":{"name":"g"},"transform":[{"filter":"datum.p==7"}],"mark":{"type":"tick","orient":"vertical","color":"black","thickness":1.5,"size":6},"encoding":{"x":{"field":"b","type":"quantitative","scale":{"domain":[0,860],"nice":false}},"y":{"field":"y","type":"quantitative","scale":{"domain":[0,136],"nice":false}}}},
{"data":{"name":"t"},"transform":[{"filter":"datum.p==7"}],"mark":{"type":"text","align":"left","baseline":"middle","fontWeight":"bold","fontSize":10,"color":"black"},"encoding":{"x":{"field":"x","type":"quantitative","scale":{"domain":[0,860],"nice":false}},"y":{"field":"y","type":"quantitative","scale":{"domain":[0,136],"nice":false}},"text":{"field":"s"}}},
{"data":{"name":"ti"},"transform":[{"filter":"datum.p==7"}],"mark":{"type":"text","align":"left","baseline":"middle","fontWeight":"bold","fontStyle":"italic","fontSize":10,"color":"black"},"encoding":{"x":{"field":"x","type":"quantitative","scale":{"domain":[0,860],"nice":false}},"y":{"field":"y","type":"quantitative","scale":{"domain":[0,136],"nice":false}},"text":{"field":"s"}}},
{"data":{"values":[{}]},"mark":{"type":"rule","color":"black","strokeWidth":1.5},"encoding":{"x":{"datum":-114,"type":"quantitative","scale":{"domain":[0,860],"nice":false}},"y":{"datum":-26.8,"type":"quantitative","scale":{"domain":[0,136],"nice":false}},"y2":{"datum":-8.2}}},
{"data":{"values":[{}]},"mark":{"type":"rule","color":"black","strokeWidth":1.5},"encoding":{"x":{"datum":-114,"type":"quantitative","scale":{"domain":[0,860],"nice":false}},"x2":{"datum":-14},"y":{"datum":-26.8,"type":"quantitative","scale":{"domain":[0,136],"nice":false}}}},
{"data":{"values":[{}]},"mark":{"type":"point","shape":"triangle-up","filled":true,"color":"black","opacity":1,"size":40},"encoding":{"x":{"datum":-114,"type":"quantitative","scale":{"domain":[0,860],"nice":false}},"y":{"datum":-8.2,"type":"quantitative","scale":{"domain":[0,136],"nice":false}}}},
{"data":{"values":[{}]},"mark":{"type":"point","shape":"triangle-right","filled":true,"color":"black","opacity":1,"size":40},"encoding":{"x":{"datum":-14,"type":"quantitative","scale":{"domain":[0,860],"nice":false}},"y":{"datum":-26.8,"type":"quantitative","scale":{"domain":[0,136],"nice":false}}}}
]}
],
"config":{
"font":"Liberation Sans",
"view":{"stroke":null},
"axis":{"domainColor":"black","domainWidth":2,"tickColor":"black","tickWidth":1.5,"labelFont":"Liberation Sans","labelFontWeight":"bold","labelFontSize":9,"labelColor":"black","titleFont":"Liberation Sans","titleFontWeight":"bold","titleFontSize":9,"titleColor":"black","grid":false,"labelPadding":1,"labelFlush":false,"labelOverlap":false},
"title":{"font":"Liberation Sans","fontWeight":"bold","color":"black"},
"text":{"font":"Liberation Sans"}
}
}
